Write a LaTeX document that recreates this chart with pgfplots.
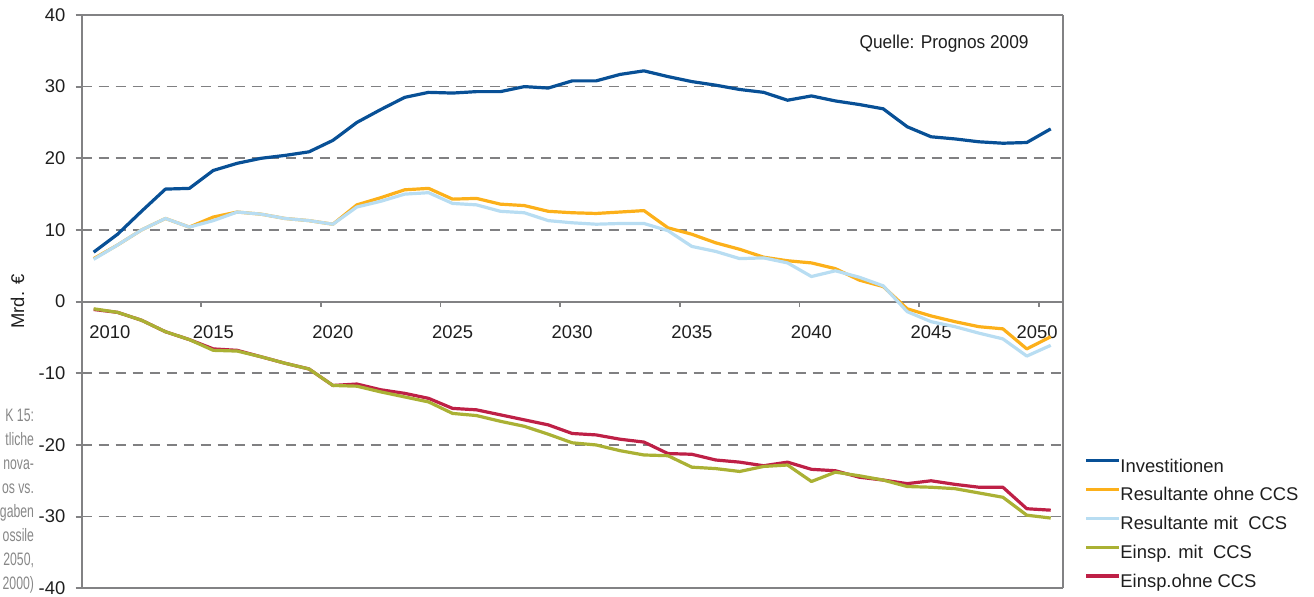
\documentclass[border=0pt]{standalone}
\usepackage{fontspec}
\setmainfont{Liberation Sans}
\newfontfamily\capfont[FakeStretch=0.68]{Liberation Sans}
\newfontfamily\qfont[FakeStretch=0.93]{Liberation Sans}
\usepackage{pgfplots}
\usepackage{pgfplotstable}
\pgfplotsset{compat=1.18}
\definecolor{invblue}{RGB}{8,80,150}
\definecolor{resohne}{RGB}{252,176,26}
\definecolor{resmit}{RGB}{184,221,242}
\definecolor{einspmit}{RGB}{170,177,52}
\definecolor{einspohne}{RGB}{190,32,70}
\definecolor{axisgray}{RGB}{130,130,132}
\definecolor{gridgray}{RGB}{128,128,130}
\definecolor{ticktext}{RGB}{30,30,30}
\definecolor{captgray}{RGB}{135,135,135}

\pgfplotstableread{
year inv resohne resmit einspmit einspohne
2010 6.9 6.0 5.9 -1.0 -1.1
2011 9.4 7.9 7.9 -1.5 -1.5
2012 12.6 10.0 10.0 -2.6 -2.6
2013 15.7 11.6 11.6 -4.2 -4.2
2014 15.8 10.4 10.4 -5.3 -5.3
2015 18.3 11.8 11.3 -6.8 -6.6
2016 19.3 12.5 12.5 -6.9 -6.8
2017 20.0 12.2 12.2 -7.7 -7.7
2018 20.4 11.6 11.6 -8.6 -8.6
2019 20.9 11.3 11.3 -9.4 -9.4
2020 22.5 10.8 10.8 -11.7 -11.7
2021 25.0 13.5 13.2 -11.8 -11.5
2022 26.8 14.5 14.0 -12.6 -12.3
2023 28.5 15.6 15.0 -13.3 -12.8
2024 29.2 15.8 15.2 -14.0 -13.5
2025 29.1 14.3 13.7 -15.6 -14.9
2026 29.3 14.4 13.5 -15.9 -15.1
2027 29.3 13.6 12.6 -16.7 -15.8
2028 30.0 13.4 12.4 -17.4 -16.5
2029 29.8 12.6 11.3 -18.5 -17.2
2030 30.8 12.4 11.0 -19.7 -18.4
2031 30.8 12.3 10.8 -20.0 -18.6
2032 31.7 12.5 10.9 -20.8 -19.2
2033 32.2 12.7 10.9 -21.4 -19.6
2034 31.4 10.3 9.9 -21.5 -21.2
2035 30.7 9.4 7.7 -23.1 -21.3
2036 30.2 8.2 7.0 -23.3 -22.1
2037 29.6 7.3 6.0 -23.7 -22.4
2038 29.2 6.2 6.1 -23.0 -22.9
2039 28.1 5.7 5.4 -22.8 -22.4
2040 28.7 5.4 3.5 -25.1 -23.4
2041 28.0 4.6 4.3 -23.8 -23.6
2042 27.5 3.0 3.4 -24.3 -24.5
2043 26.9 2.1 2.2 -24.9 -24.9
2044 24.4 -1.0 -1.4 -25.8 -25.4
2045 23.0 -2.0 -2.8 -25.9 -25.0
2046 22.7 -2.8 -3.5 -26.1 -25.5
2047 22.3 -3.5 -4.4 -26.7 -25.9
2048 22.1 -3.8 -5.2 -27.3 -25.9
2049 22.2 -6.6 -7.6 -29.8 -28.9
2050 24.1 -4.9 -6.1 -30.2 -29.1
}\datatable

\begin{document}
\begin{tikzpicture}
\begin{axis}[
  at={(40.85pt,4.35pt)}, anchor=south west,
  scale only axis, width=490.5pt, height=286.67pt,
  xmin=2009.5, xmax=2050.5, ymin=-40, ymax=40,
  axis x line=middle, axis y line=box,
  x axis line style={-}, y axis line style={-},
  axis line style={draw=axisgray, line width=0.9pt},
  xtick={2010.68,2015,2020,2025,2030,2035,2040,2045,2049.43},
  xticklabels={2010,2015,2020,2025,2030,2035,2040,2045,2050},
  major x tick style={draw=none},
  minor xtick={2014.5,2019.5,2024.5,2029.5,2034.5,2039.5,2044.5,2049.5},
  minor x tick style={draw=axisgray, line width=0.9pt},
  minor tick length=2.5pt,
  ytick={-40,-30,-20,-10,0,10,20,30,40},
  yticklabels={-40,-30,-20,-10,0,10,20,30,40},
  ytick pos=left,
  major tick length=3pt,
  tick align=outside,
  major y tick style={draw=axisgray, line width=0.9pt},
  ymajorgrids,
  major grid style={draw=gridgray, line width=0.8pt, dash pattern=on 5pt off 3.5pt},
  tick label style={font=\fontsize{9.2}{10}\selectfont, text=ticktext},
  y tick label style={inner sep=0pt, xshift=-5pt},
  x tick label style={inner sep=0pt, anchor=base, yshift=-15.3pt},
  ylabel={Mrd. €},
  ylabel style={at={(axis description cs:-0.0654,0.5)}, anchor=center, font=\fontsize{9.2}{10}\selectfont, text=ticktext},
  legend style={draw=none, fill=none, at={(axis description cs:1.0222,0.2292)}, anchor=north west,
    font=\fontsize{9.2}{10}\selectfont, text=ticktext, inner sep=0pt, row sep=4.3pt, column sep=0pt,
    nodes={inner xsep=0pt, inner ysep=0.8pt, text height=6.6pt, text depth=1.9pt}},
  legend cell align=left,
  legend image code/.code={\draw[#1, line width=1.6pt] (0pt,3.3pt) -- (16.2pt,3.3pt);},
  clip=false,
]
\addplot[color=invblue, line width=1.6pt, line join=round, forget plot] table[x=year, y=inv]{\datatable};
\addplot[color=resohne, line width=1.6pt, line join=round, forget plot] table[x=year, y=resohne]{\datatable};
\addplot[color=resmit, line width=1.6pt, line join=round, forget plot] table[x=year, y=resmit]{\datatable};
\addplot[color=einspohne, line width=1.6pt, line join=round, forget plot] table[x=year, y=einspohne]{\datatable};
\addplot[color=einspmit, line width=1.6pt, line join=round, forget plot] table[x=year, y=einspmit]{\datatable};
\draw[axisgray, line width=0.9pt] (rel axis cs:0,1) -- (rel axis cs:1,1);
\draw[axisgray, line width=0.9pt] (rel axis cs:0,0) -- (rel axis cs:1,0);
\addlegendimage{color=invblue}
\addlegendentry{Investitionen}
\addlegendimage{color=resohne}
\addlegendentry{Resultante ohne CCS}
\addlegendimage{color=resmit}
\addlegendentry{Resultante mit\ \ CCS}
\addlegendimage{color=einspmit}
\addlegendentry{Einsp. mit\ \ CCS}
\addlegendimage{color=einspohne}
\addlegendentry{Einsp.ohne CCS}
\end{axis}
\node[anchor=base west, font=\qfont\fontsize{9.3}{10}\selectfont, text=ticktext] at (426.3pt,274.35pt) {Quelle: Prognos 2009};
\begin{scope}[every node/.style={anchor=base east, inner sep=0pt, font=\capfont\fontsize{9}{10}\selectfont, text=captgray}]
\node at (17.2pt,87.65pt) {K 15:};
\node at (17.2pt,75.65pt) {tliche};
\node at (17.2pt,63.65pt) {nova-};
\node at (17.2pt,51.65pt) {os vs.};
\node at (17.2pt,39.65pt) {gaben};
\node at (17.2pt,27.65pt) {ossile};
\node at (17.2pt,15.65pt) {2050,};
\node at (17.2pt,3.65pt) {2000)};
\end{scope}
\pgfresetboundingbox
\useasboundingbox (0,0) rectangle (657pt,298.5pt);
\end{tikzpicture}
\end{document}
